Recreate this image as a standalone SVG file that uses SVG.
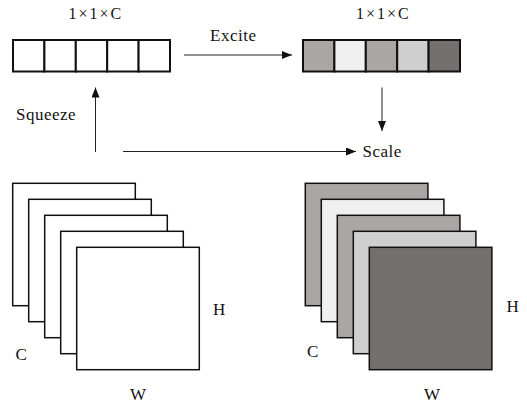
<svg xmlns="http://www.w3.org/2000/svg" width="527" height="409" viewBox="0 0 527 409">
<style>
text{font-family:"Liberation Serif","Times New Roman",serif;font-size:17px;fill:#111}
.bar{stroke:#111;stroke-width:2}
.sheet{stroke:#111;stroke-width:1.5}
.conn{stroke:#222;stroke-width:1;fill:none}
</style>
<defs>
<marker id="ah" viewBox="0 0 10 8" refX="10" refY="4" markerWidth="10" markerHeight="8" markerUnits="userSpaceOnUse" orient="auto">
<path d="M0,0 L10,4 L0,8 Z" fill="#111"/>
</marker>
</defs>
<rect width="527" height="409" fill="#fff"/>
<g id="vec-in">
<text x="68.5" y="18.5" style="font-size:16px;letter-spacing:2px">1×1×C</text>
<rect class="bar" x="13" y="40" width="31.4" height="31.5" fill="#fff"/>
<rect class="bar" x="44.4" y="40" width="31.4" height="31.5" fill="#fff"/>
<rect class="bar" x="75.8" y="40" width="31.4" height="31.5" fill="#fff"/>
<rect class="bar" x="107.2" y="40" width="31.4" height="31.5" fill="#fff"/>
<rect class="bar" x="138.6" y="40" width="31.4" height="31.5" fill="#fff"/>
</g>
<g id="vec-out">
<text x="356" y="18.5" style="font-size:16px;letter-spacing:2px">1×1×C</text>
<rect class="bar" x="303" y="40" width="31.4" height="31.5" fill="#aaa6a5"/>
<rect class="bar" x="334.4" y="40" width="31.4" height="31.5" fill="#f0f0f0"/>
<rect class="bar" x="365.8" y="40" width="31.4" height="31.5" fill="#aaa6a5"/>
<rect class="bar" x="397.2" y="40" width="31.4" height="31.5" fill="#d0cfcf"/>
<rect class="bar" x="428.6" y="40" width="31.4" height="31.5" fill="#747070"/>
</g>
<g id="stack-in">
<rect class="sheet" x="12.7" y="183.3" width="122.6" height="122.4" fill="#fff"/>
<rect class="sheet" x="28.7" y="199.3" width="122.6" height="122.4" fill="#fff"/>
<rect class="sheet" x="44.7" y="215.3" width="122.6" height="122.4" fill="#fff"/>
<rect class="sheet" x="60.7" y="231.3" width="122.6" height="122.4" fill="#fff"/>
<rect class="sheet" x="76.7" y="247.3" width="122.6" height="122.4" fill="#fff"/>
<text x="213" y="315">H</text>
<text x="15.5" y="360">C</text>
<text x="130" y="400">W</text>
</g>
<g id="stack-out">
<rect class="sheet" x="305.3" y="183.3" width="122.6" height="122.4" fill="#aaa6a5"/>
<rect class="sheet" x="321.3" y="199.3" width="122.6" height="122.4" fill="#f0f0f0"/>
<rect class="sheet" x="337.3" y="215.3" width="122.6" height="122.4" fill="#aaa6a5"/>
<rect class="sheet" x="353.3" y="231.3" width="122.6" height="122.4" fill="#d0cfcf"/>
<rect class="sheet" x="369.3" y="247.3" width="122.6" height="122.4" fill="#747070"/>
<text x="506.5" y="311.5">H</text>
<text x="307" y="356.5">C</text>
<text x="424" y="400">W</text>
</g>
<g id="connectors">
<line class="conn" x1="95.5" y1="152" x2="95.5" y2="87.5" marker-end="url(#ah)"/>
<line class="conn" x1="184" y1="55" x2="292" y2="55" marker-end="url(#ah)"/>
<line class="conn" x1="382" y1="87.5" x2="382" y2="131" marker-end="url(#ah)"/>
<line class="conn" x1="123" y1="151.5" x2="356" y2="151.5" marker-end="url(#ah)"/>
<text x="16" y="120" style="letter-spacing:0.5px">Squeeze</text>
<text x="210" y="40.5" style="letter-spacing:0.5px">Excite</text>
<text x="362.5" y="157" style="letter-spacing:0.5px">Scale</text>
</g>
</svg>
